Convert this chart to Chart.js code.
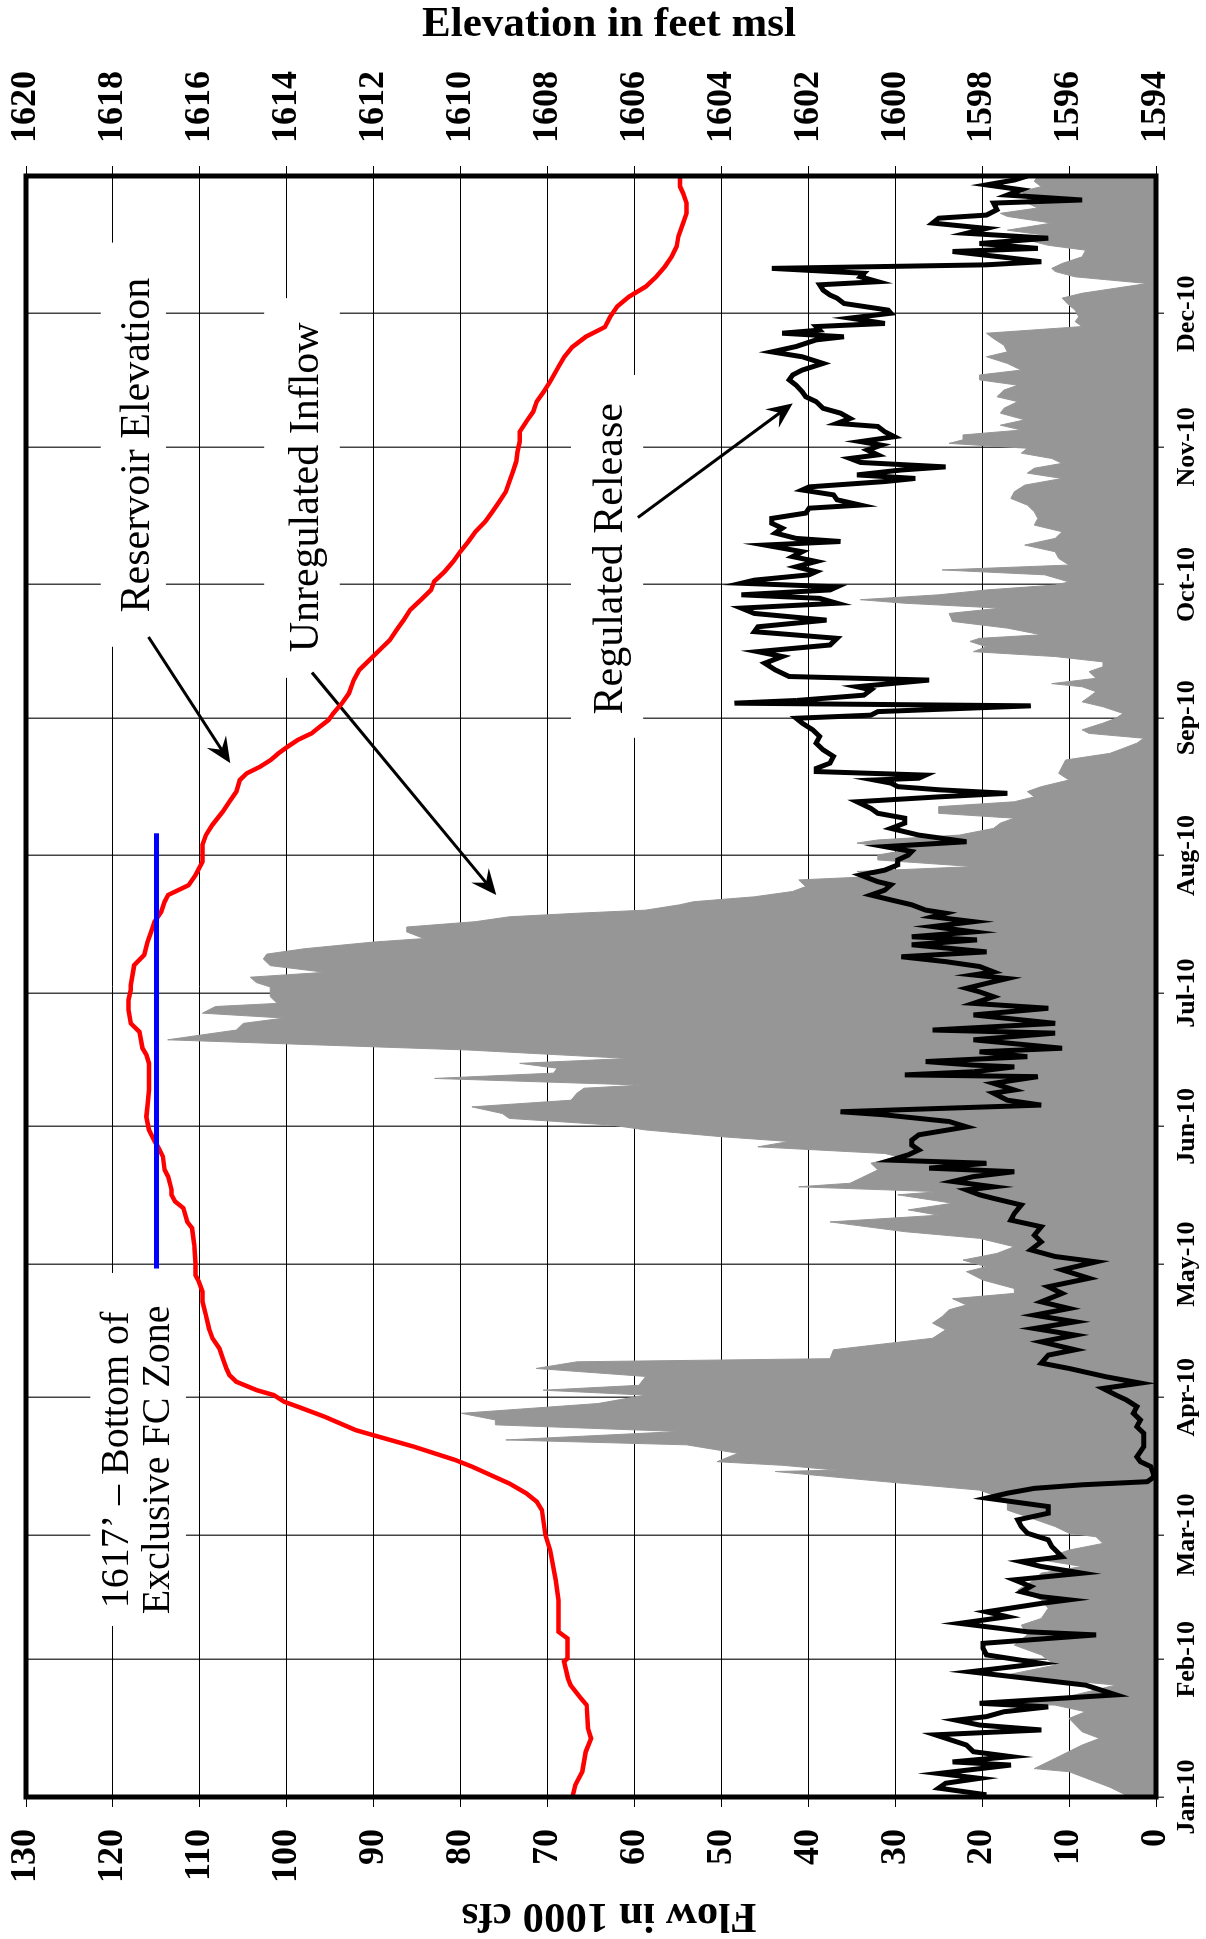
<!DOCTYPE html>
<html>
<head>
<meta charset="utf-8">
<script src="https://cdn.jsdelivr.net/npm/chart.js@4/dist/chart.umd.min.js"></script>
<style>
html,body{margin:0;padding:0;background:#fff;width:1206px;height:1939px;overflow:hidden}
/* chart is drawn in landscape, then turned a quarter turn left */
#wrap{position:absolute;left:0;top:0;width:1939px;height:1206px;transform-origin:0 0;transform:translateY(1939px) rotate(-90deg)}
</style>
</head>
<body>
<div id="wrap"><canvas id="c" width="1939" height="1206"></canvas></div>
<script>
// x = day of 2010 (0 = Jan 1)
const monthStarts=[0,31,59,90,120,151,181,212,243,273,304,334];
const monthLabels=['Jan-10','Feb-10','Mar-10','Apr-10','May-10','Jun-10','Jul-10','Aug-10','Sep-10','Oct-10','Nov-10','Dec-10'];

// unregulated inflow, 1000 cfs
const inflowCfs=[[0,3.0],[2.2,5.3],[5.7,10.0],[6.4,14.0],[8.7,11.6],[11.7,8.5],[13.2,6.5],[14.7,8.5],[17.7,10.0],[19.2,8.1],[20.7,11.6],[21.2,20.3],[22.2,11.6],[23.0,9.3],[25.2,4.6],[27.5,17.1],[29.7,11.6],[32.0,13.2],[34.2,16.3],[36.5,14.8],[38.7,15.5],[40.2,13.2],[42.5,12.4],
[44.4,13.2],[46.6,15.9],[48.9,14.0],[50.4,13.2],[51.9,8.5],[53.4,13.2],[55.6,10.0],[57.1,6.1],[58.6,6.9],[59.4,10.0],[60.9,11.6],[63.1,14.8],[64.6,17.1],[66.9,17.1],[69.1,20.3],[70.6,28.9],[71.8,35.6],[73.3,43.8],[73.6,36.7],[74.7,43.0],[75.5,50.5],[77.4,48.1],[79.3,54.0],[80.4,74.8],[82.3,54.8],[83.8,76.0],[84.9,76.0],[86.4,79.9],[88.6,64.2],
[90.5,58.7],[91.6,70.5],[92.7,59.5],[94.7,58.7],[96.5,71.3],[98.0,66.6],[98.7,37.5],[100.7,37.1],[103.3,25.7],[105.2,24.2],[106.7,25.7],[108.2,24.6],[109.7,23.8],[110.8,21.8],[112.2,23.4],[113.4,16.3],[114.5,16.3],[116.4,19.9],[118.3,21.8],[119.4,19.5],[120.9,22.2],[122.4,18.3],[123.9,16.3],[125.8,20.3],[127.3,28.9],[129.5,37.5],[131.0,25.0],[132.2,28.5],[133.7,23.4],[135.6,29.7],
[136.3,25.0],[137.4,41.1],[138.2,35.2],[139.7,33.6],[141.2,32.0],[142.7,32.8],[144.2,29.7],[144.9,31.2],[146.4,45.8],[147.6,42.2],[148.7,50.1],[150.2,58.7],[151.3,62.6],[152.8,74.4],[153.9,75.2],[155.4,78.7],[156.9,67.3],[158.5,66.6],[159.6,65.8],[160.3,59.1],[161.8,83.0],[163.0,69.3],[164.1,68.9],[165.2,73.2],[166.3,60.7],[168.2,79.1],[170.5,113.7],[172.7,105.8],[174.2,105.0],[175.4,100.3],[176.5,109.7],[178.0,108.2],[178.7,101.1],[180.2,101.9],[181.3,101.9],
[182.4,101.9],[183.4,103.5],[184.6,104.2],[185.7,95.6],[187.2,101.9],[188.7,102.7],[189.8,102.3],[191.0,98.0],[192.5,90.1],[193.3,84.2],[194.8,86.2],[195.9,86.2],[197.1,78.3],[198.2,74.4],[199.0,66.6],[199.7,58.7],[200.9,54.8],[201.6,53.2],[202.7,46.2],[203.9,41.8],[205.0,40.3],[206.5,41.1],[207.3,32.0],[208.4,34.4],[209.5,21.0],[211.0,32.0],[212.1,32.0],[213.3,28.5],[214.8,34.4],[215.5,32.0],[216.6,22.6],[218.1,18.7],[219.3,17.9],[220.4,16.3],[221.5,25.0],[223.0,25.0],[224.1,16.3],[225.2,14.0],[226.4,14.8],[227.5,13.2],
[229.0,10.0],[230.5,11.2],[232.0,10.8],[233.5,10.4],[235.0,5.3],[236.1,3.8],[237.3,2.2],[238.4,1.4],[239.5,7.7],[240.3,8.5],[241.8,6.1],[242.9,4.6],[244.0,3.8],[245.5,6.1],[246.6,8.5],[247.7,7.7],[248.9,6.9],[250.0,8.5],[250.7,12.0],[251.9,6.9],[253.4,7.7],[254.5,6.1],[255.6,6.1],[256.8,11.6],[257.9,21.0],[259.0,19.5],[260.2,21.4],[260.9,20.3],[261.7,13.2],[263.2,17.1],[264.7,23.4],[266.5,23.8],[267.7,17.9],[268.8,28.9],[269.6,34.0],[270.7,25.0],[271.8,19.5],[272.9,11.6],[273.6,10.0],
[275.2,12.8],[276.3,24.6],[277.4,10.0],[278.9,11.2],[280.4,11.6],[281.9,15.1],[283.4,11.6],[284.9,10.8],[286.4,14.0],[287.9,13.6],[289.4,14.0],[290.9,14.8],[292.4,16.7],[293.9,16.3],[295.4,15.1],[296.9,10.8],[298.1,14.8],[299.2,14.0],[300.3,10.8],[301.4,12.0],[302.6,15.5],[303.7,14.8],[304.8,23.8],[305.6,22.2],[306.7,22.2],[307.8,15.5],[308.9,17.9],[310.1,15.1],[311.6,17.9],[312.7,17.5],[314.2,15.9],[315.3,18.3],[316.8,17.5],[317.9,15.9],[319.1,20.3],[320.2,20.3],
[321.3,15.5],[322.8,17.1],[324.3,19.5],[325.4,17.1],[326.9,17.5],[328.4,18.7],[329.6,19.5],[331.1,8.5],[332.2,9.3],[333.3,8.9],[334.8,9.3],[335.9,10.0],[337.5,10.8],[338.6,8.5],[340.8,1.0],[342.3,9.3],[343.5,11.6],[344.2,12.0],[345.3,10.8],[346.8,8.5],[348.3,8.1],[349.4,12.4],[350.6,14.8],[351.7,12.8],[352.8,17.1],[354.4,12.0],[355.9,17.1],[356.6,17.9],[357.8,13.6],[358.9,14.8],[360.4,14.8],[361.5,15.5],[362.6,13.2],[363.8,14.0],[365,13.6]];

// regulated release, 1000 cfs
const releaseCfs=[[0.5,19.5],[2.0,25.0],[3.1,24.2],[4.2,20.3],[5.3,25.0],[7.2,16.7],[7.9,23.4],[9.1,16.7],[10.2,21.0],[11.7,21.8],[14.0,25.4],[15.1,13.2],[16.2,20.3],[17.3,23.0],[18.1,19.5],[19.2,17.5],[20.3,12.4],[21.1,20.3],[23.0,4.6],[25.2,8.1],[28.2,21.4],[30.1,13.2],[32.0,19.5],[33.5,19.9],[34.6,19.9],[36.5,6.9],[37.2,14.8],[39.1,22.6],[40.6,17.1],[41.7,19.5],
[43.6,13.2],[44.4,10.0],[45.1,13.2],[46.2,15.5],[47.4,14.4],[48.9,16.3],[50.4,8.5],[51.9,13.2],[53.0,15.5],[54.1,10.8],[56.4,12.0],[57.9,12.4],[59.4,14.8],[60.9,15.5],[62.4,15.9],[63.9,12.4],[65.4,12.4],[67.3,19.5],[68.4,17.1],[69.5,14.0],[70.3,8.5],[71.0,1.0],[72.1,0.2],[74.4,0.6],[75.5,1.8],[76.6,2.2],[78.9,1.4],[81.9,1.4],[83.4,2.2],[84.9,1.8],[86.4,2.6],[87.9,2.2],[89.4,3.4],
[90.5,4.6],[92.0,6.1],[93.2,1.8],[94.6,5.7],[96.5,10.0],[97.7,13.2],[99.5,12.4],[100.7,9.3],[102.5,13.2],[104.0,9.3],[105.5,14.0],[107.0,9.3],[108.5,14.0],[110.0,10.0],[111.5,13.2],[113.4,10.8],[114.9,12.4],[116.8,7.7],[118.7,10.8],[120.5,6.9],[121.7,11.6],[123.2,14.4],[125.0,13.2],[126.5,14.0],[128.4,13.2],[129.9,16.7],[131.4,16.3],[133.3,15.5],[134.8,18.7],
[135.6,20.3],[136.7,21.8],[137.4,18.7],[138.6,23.4],[139.7,21.0],[140.8,16.3],[141.6,26.1],[142.7,19.5],[143.4,30.5],[144.6,28.5],[145.7,27.3],[146.8,28.1],[147.9,28.1],[149.1,27.3],[150.9,21.8],[152.1,23.8],[153.6,31.2],[154.3,36.3],[155.8,13.2],[156.9,17.1],[158.5,18.7],[159.2,16.3],[160.7,18.7],[162.2,13.6],[162.6,28.9],[163.3,21.0],[164.4,16.3],[164.8,21.0],[165.6,26.5],[166.7,14.8],[167.8,20.3],[168.6,10.8],[170.5,21.0],[172.0,11.6],[172.7,25.7],[174.2,11.6],[176.1,21.0],[177.6,12.4],[178.7,21.0],[180.2,18.7],[181.3,20.3],
[182.1,21.8],[183.2,19.5],[184.3,17.1],[185.1,21.0],[185.8,18.7],[187.0,20.3],[188.1,24.2],[189.2,29.3],[190.3,19.5],[191.9,28.1],[193.0,20.6],[193.7,28.1],[194.8,21.0],[196.0,25.7],[197.1,21.0],[198.2,25.7],[199.0,24.2],[199.7,26.5],[200.9,28.1],[202.0,30.5],[203.1,32.8],[204.2,31.2],[205.4,30.5],[206.1,32.0],[207.6,34.0],[208.7,31.2],[209.9,29.7],[211.0,29.7],[212.1,28.5],[212.9,28.1],[214.0,31.2],[215.1,21.8],[216.6,27.3],[218.1,30.5],[219.3,28.9],[220.4,28.9],[221.5,32.0],[222.6,32.8],[224.1,34.4],[225.2,25.0],[226.0,17.1],[226.8,25.0],[227.5,29.7],
[228.3,30.5],[229.0,32.4],[229.4,27.3],[230.1,26.5],[230.9,39.1],[231.6,39.1],[232.8,37.5],[234.3,37.1],[235.8,38.3],[237.3,39.1],[238.8,38.7],[240.3,39.5],[241.8,40.7],[242.9,41.4],[243.6,32.8],[244.4,32.0],[245.7,14.4],[246.3,48.5],[246.9,41.4],[248.1,33.6],[249.3,32.8],[250.0,34.4],[251.5,26.1],[252.3,42.2],[253.8,43.8],[255.3,45.0],[256.8,43.0],[257.9,45.8],[259.4,37.5],[260.9,36.7],[262.4,46.2],[263.5,45.8],[265.0,37.9],[266.5,46.2],[267.7,47.7],[268.8,36.7],[269.9,38.7],[270.7,47.7],[271.8,37.5],[272.5,36.7],[273.3,47.7],[274.0,46.2],
[275.2,39.9],[275.9,39.1],[277.0,41.4],[278.2,39.1],[279.3,41.8],[280.4,40.7],[281.9,45.0],[282.7,36.3],[283.4,41.4],[284.6,43.8],[285.7,43.0],[286.8,44.2],[287.9,44.2],[289.1,40.3],[290.2,39.9],[290.9,34.0],[292.1,36.7],[293.2,37.1],[294.3,40.7],[295.0,39.9],[296.2,31.2],[296.9,27.7],[297.7,34.4],[298.8,29.3],[299.5,24.2],[300.5,34.0],[301.4,35.2],[302.2,32.0],[303.3,33.2],[304.4,31.6],[305.2,34.0],[306.3,30.1],[307.4,31.2],[308.6,32.0],[309.3,36.7],[310.4,35.2],[311.6,36.3],[312.7,38.3],[314.2,39.1],[315.3,40.3],[316.4,40.7],[317.9,41.4],[319.1,42.2],[320.2,41.8],
[321.3,40.7],[322.8,38.3],[324.3,40.7],[325.4,44.2],[326.6,41.4],[328.1,39.1],[328.8,35.9],[329.6,43.0],[330.3,38.7],[331.1,39.1],[331.8,31.2],[333.0,35.2],[334.1,30.5],[334.8,30.8],[336.3,35.9],[337.5,36.7],[338.2,37.5],[339.3,38.3],[340.5,38.7],[341.2,32.0],[342.3,34.0],[343.1,33.6],[344.2,44.2],[345.0,19.5],[345.7,13.2],[346.8,17.9],[348.0,23.4],[348.7,13.6],[349.8,20.3],[351.0,12.4],[352.1,21.8],[353.2,19.5],[354.4,25.7],[355.5,25.0],[356.2,19.5],[357.4,18.3],[358.9,18.7],[359.6,8.5],[360.7,17.1],[361.9,15.5],[363.0,19.5],[364.1,16.3],[365,14.8]];

// reservoir elevation, feet msl
const elevFt=[[0,1607.43],[2.7,1607.36],[5.7,1607.20],[10.2,1607.12],[13.2,1607.00],[15.5,1607.07],[20.7,1607.10],[22.2,1607.23],[25.2,1607.47],[26.7,1607.53],[30.5,1607.62],[31.2,1607.54],[35.7,1607.54],[37.2,1607.75],[41.7,1607.75],[44.3,1607.75],[48.8,1607.81],[55.6,1607.94],[59.0,1608.05],[64.6,1608.13],[66.5,1608.25],[68.4,1608.49],[70.6,1608.88],[74.4,1609.74],[75.9,1610.13],[78.9,1611.08],[81.5,1612.02],[82.6,1612.41],[85.6,1613.12],[87.9,1613.75],[89.0,1614.06],
[90.5,1614.30],[91.6,1614.69],[93.5,1615.16],[95.0,1615.32],[96.5,1615.39],[98.7,1615.47],[101.0,1615.55],[103.3,1615.71],[105.5,1615.79],[108.5,1615.86],[111.5,1615.94],[113.8,1615.94],[116.0,1616.02],[117.5,1616.10],[120.2,1616.10],[124.3,1616.13],[128.1,1616.18],[129.5,1616.29],[132.6,1616.38],[134.1,1616.57],[135.6,1616.65],[136.7,1616.65],[139.7,1616.73],[141.2,1616.81],[144.2,1616.85],[146.4,1616.96],[147.6,1617.04],[150.2,1617.17],[153.2,1617.23],[156.2,1617.20],[159.2,1617.17],[163.0,1617.17],[165.2,1617.17],[167.1,1617.23],[168.6,1617.32],[172.3,1617.39],[174.2,1617.59],[177.2,1617.64],[179.5,1617.64],
[181.7,1617.59],[182.8,1617.59],[187.3,1617.51],[189.6,1617.28],[192.6,1617.20],[194.8,1617.12],[197.1,1617.04],[199.3,1616.89],[201.6,1616.81],[203.1,1616.73],[205.3,1616.26],[207.6,1616.10],[210.6,1615.94],[214.4,1615.94],[216.6,1615.86],[218.9,1615.71],[221.9,1615.47],[224.1,1615.32],[226.4,1615.16],[229.0,1615.08],[230.5,1614.92],[232.0,1614.61],[233.5,1614.37],[235.0,1614.19],[236.5,1613.98],[238.0,1613.75],[239.5,1613.43],[241.0,1613.24],[242.5,1613.04],[244.0,1612.93],[246.3,1612.73],[248.5,1612.57],[251.5,1612.46],[253.8,1612.33],[256.0,1612.10],[258.3,1611.86],[260.5,1611.63],[262.8,1611.47],[265.0,1611.31],[267.3,1611.16],[269.5,1610.92],[271.8,1610.68],
[273.7,1610.61],[275.9,1610.37],[278.2,1610.17],[280.4,1610.01],[282.7,1609.82],[284.9,1609.66],[287.2,1609.43],[289.4,1609.27],[291.7,1609.11],[293.9,1608.96],[296.2,1608.88],[298.4,1608.80],[300.7,1608.72],[302.9,1608.69],[305.2,1608.64],[307.4,1608.64],[309.7,1608.49],[311.9,1608.33],[314.2,1608.25],[316.4,1608.09],[318.7,1607.94],[322.0,1607.75],[324.2,1607.62],[326.5,1607.43],[328.8,1607.12],[331.0,1606.68],[333.3,1606.56],[335.6,1606.40],[337.8,1606.13],[340.1,1605.74],[342.3,1605.50],[344.6,1605.30],[346.9,1605.14],[349.1,1605.03],[351.4,1604.99],[354.4,1604.88],[356.6,1604.80],[358.9,1604.80],[361.1,1604.88],[362.6,1604.95],[365,1604.95]];

// bottom of exclusive flood control zone
const fcZone=[[119,1617],[217,1617]];

// annotation text: [text, day, flow at baseline, font px]
const noteTexts=[
  ['Reservoir Elevation',304.4,115.9,42],
  ['Unregulated Inflow',294.9,96.4,42],
  ['Regulated Release',278.8,61.4,42],
  ['1617\u2019 \u2013 Bottom of',75.9,118.3,40],
  ['Exclusive FC Zone',75.9,113.6,40]
];
// white boxes behind the notes: [day from, day to, flow top, flow bottom]
const noteBoxes=[[259,350,121.4,113.9],[252,337.5,102.6,93.9],[238.5,320.2,67.3,59],[38.5,118,122.6,111.6]];
// arrows: [day, flow] tail -> head
const noteArrows=[[261.2,115.9,232.8,106.5],[253.2,97.1,203.1,75.9],[288.1,59.6,313.8,41.8]];

const SERIF="'Liberation Serif','Times New Roman',serif";
Chart.defaults.font.family=SERIF;
Chart.defaults.color='#000';
const pts=a=>a.map(p=>({x:p[0],y:p[1]}));
// keep the plot box where the picture has it, labels may hang over the edges
const noPad=s=>{s.paddingTop=0;s.paddingBottom=0;s.paddingLeft=0;s.paddingRight=0};

const notes={
  id:'notes',
  beforeDatasetsDraw(ch){
    const {ctx,scales:{x,yFlow}}=ch;
    const px=d=>x.getPixelForValue(d),py=f=>yFlow.getPixelForValue(f);
    ctx.save();
    ctx.fillStyle='#fff';
    noteBoxes.forEach(b=>ctx.fillRect(px(b[0]),py(b[2]),px(b[1])-px(b[0]),py(b[3])-py(b[2])));
    ctx.fillStyle='#000';ctx.textAlign='center';ctx.textBaseline='alphabetic';
    noteTexts.forEach(t=>{ctx.font=t[3]+'px '+SERIF;ctx.fillText(t[0],px(t[1]),py(t[2]))});
    ctx.strokeStyle='#000';ctx.lineWidth=3;
    noteArrows.forEach(a=>{
      const x1=px(a[0]),y1=py(a[1]),x2=px(a[2]),y2=py(a[3]);
      const ang=Math.atan2(y2-y1,x2-x1),L=28,w=0.42;
      ctx.beginPath();ctx.moveTo(x1,y1);ctx.lineTo(x2-12*Math.cos(ang),y2-12*Math.sin(ang));ctx.stroke();
      ctx.beginPath();ctx.moveTo(x2,y2);
      ctx.lineTo(x2-L*Math.cos(ang-w),y2-L*Math.sin(ang-w));
      ctx.lineTo(x2-16*Math.cos(ang),y2-16*Math.sin(ang));
      ctx.lineTo(x2-L*Math.cos(ang+w),y2-L*Math.sin(ang+w));
      ctx.closePath();ctx.fill();
    });
    ctx.restore();
  },
  afterDatasetsDraw(ch){
    const {ctx,chartArea:a}=ch;
    ctx.save();ctx.strokeStyle='#000';ctx.lineWidth=5;
    ctx.strokeRect(a.left,a.top,a.right-a.left,a.bottom-a.top);
    // axis titles sit a little off the plot centre in the picture
    ctx.fillStyle='#000';ctx.font='bold 43px '+SERIF;ctx.textAlign='center';ctx.textBaseline='middle';
    const mid=a.top+(a.bottom-a.top)/2+18;
    ctx.translate(24,mid);ctx.rotate(-Math.PI/2);ctx.fillText('Flow in 1000 cfs',0,0);
    ctx.setTransform(1,0,0,1,0,0);
    ctx.translate(ch.width-25,mid);ctx.rotate(Math.PI/2);ctx.fillText('Elevation in feet msl',0,0);
    ctx.restore();
  }
};

new Chart(document.getElementById('c'),{
  type:'line',
  data:{datasets:[
    {label:'Bottom of Exclusive FC Zone',data:pts(fcZone),yAxisID:'yElev',borderColor:'#0000ff',borderWidth:5,pointRadius:0,order:0},
    {label:'Reservoir Elevation',data:pts(elevFt),yAxisID:'yElev',borderColor:'#ff0000',borderWidth:4.5,pointRadius:0,order:1},
    {label:'Regulated Release',data:pts(releaseCfs),yAxisID:'yFlow',borderColor:'#000',borderWidth:5,pointRadius:0,order:2},
    {label:'Unregulated Inflow',data:pts(inflowCfs),yAxisID:'yFlow',borderColor:'#969696',backgroundColor:'#969696',borderWidth:1,fill:'origin',pointRadius:0,order:3}
  ]},
  options:{
    responsive:false,animation:false,devicePixelRatio:1,
    layout:{padding:{top:26,left:0,right:0,bottom:0}},
    plugins:{legend:{display:false},tooltip:{enabled:false}},
    scales:{
      x:{type:'linear',position:'bottom',min:0,max:365,
        afterBuildTicks:s=>{s.ticks=monthStarts.map(v=>({value:v}))},
        afterFit:s=>{s.height=50;noPad(s)},
        ticks:{autoSkip:false,maxRotation:0,minRotation:0,padding:8,font:{size:26,weight:'bold'},callback:(v,i)=>monthLabels[i]},
        grid:{color:'#444',lineWidth:1.5,tickLength:8},
        border:{display:false}},
      yFlow:{type:'linear',position:'left',min:0,max:130,
        afterFit:s=>{s.width=142;noPad(s)},
        ticks:{stepSize:10,padding:22,font:{size:36,weight:'bold'},callback:v=>String(v)},
        grid:{color:'#000',lineWidth:1,tickLength:10},
        border:{display:false}},
      yElev:{type:'linear',position:'right',min:1594,max:1620,
        afterFit:s=>{s.width=176;noPad(s)},
        ticks:{stepSize:2,padding:23,font:{size:36,weight:'bold'},callback:v=>String(v)},
        grid:{drawOnChartArea:false,color:'#000',lineWidth:1,tickLength:10},
        border:{display:false}}
    }
  },
  plugins:[notes]
});
</script>
</body>
</html>
